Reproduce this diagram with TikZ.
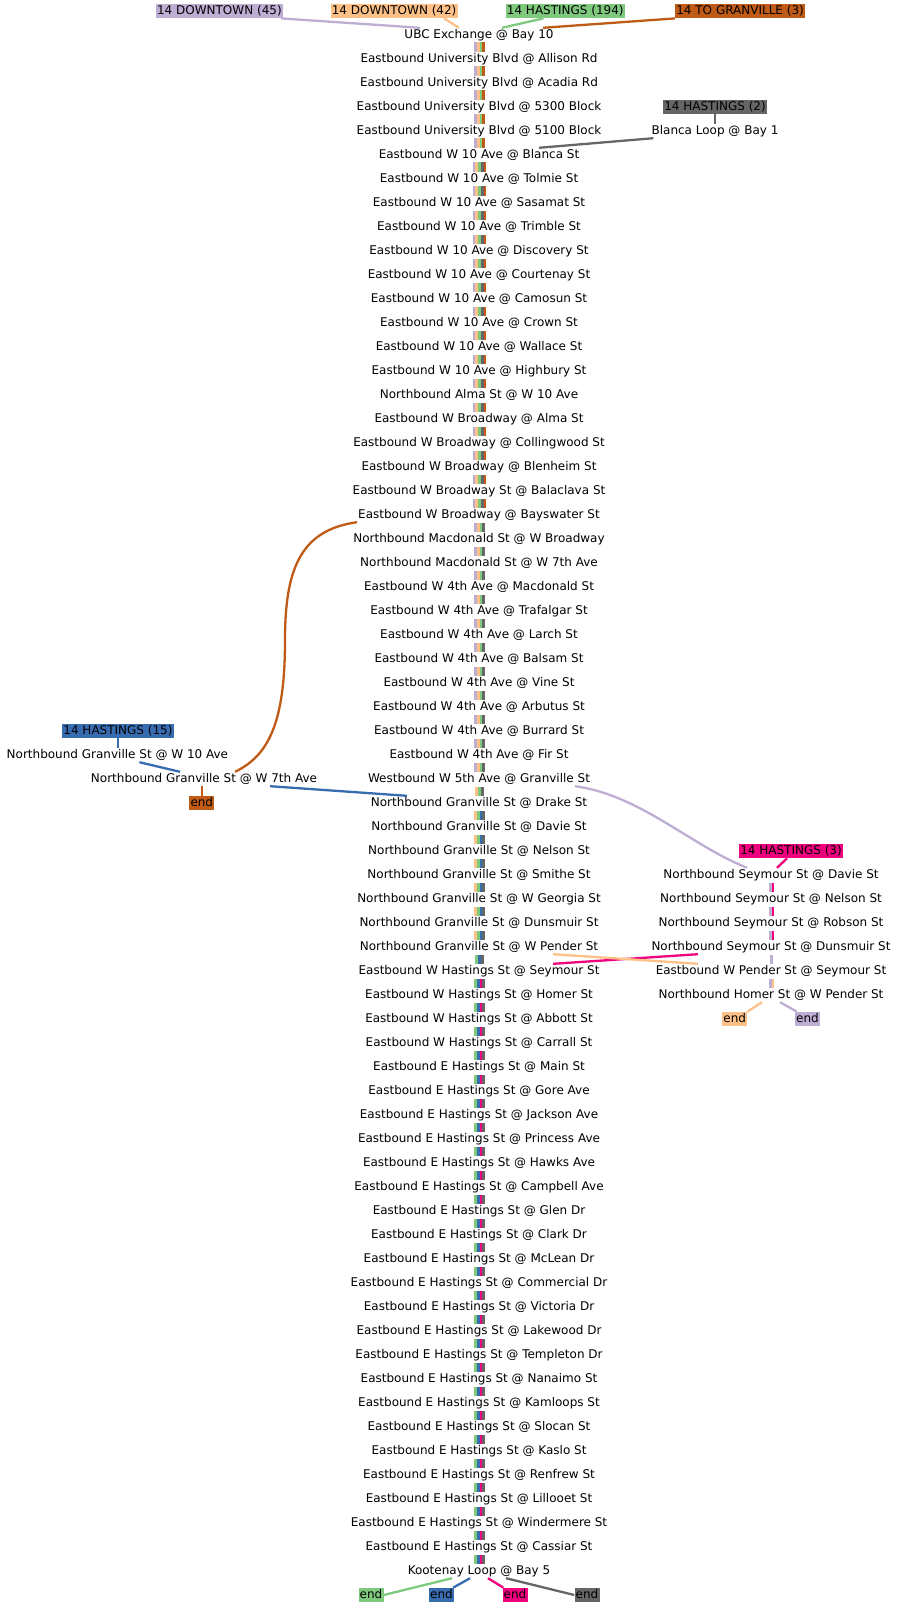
\documentclass[tikz,border=0pt]{standalone}
\usepackage{fontspec}
\setmainfont{DejaVu Sans}
\usetikzlibrary{calc}
\definecolor{cP}{HTML}{BEAED4}
\definecolor{cO}{HTML}{FDC086}
\definecolor{cG}{HTML}{7FC97F}
\definecolor{cB}{HTML}{386CB0}
\definecolor{cK}{HTML}{F0027F}
\definecolor{cY}{HTML}{666666}
\definecolor{cR}{HTML}{BF5B17}
% #1 x centre, #2 first gap, #3 last gap, #4 number of bars, #5 colour list
\newcommand\routebars[5]{%
  \foreach \g in {#2,...,#3}{%
    \foreach \col [count=\i] in {#5}{%
      \fill[\col] ({#1-#4*1.375+(\i-1)*2.75},{11+24*\g+7.5}) rectangle ++(2.75,9.5);
    }%
  }%
}
\begin{document}
\begin{tikzpicture}[x=1pt,y=-1pt,
  stn/.style={inner xsep=1pt, inner ysep=1pt, text height=9.2pt, text depth=2.8pt,
              font=\fontsize{12}{14}\selectfont},
  lbl/.style={stn, fill=#1, inner ysep=1.2pt, inner xsep=1.2pt},
  conn/.style={draw=#1, line width=2.3pt},
]
\fill[white] (0,0) rectangle (899,1608);
\useasboundingbox (0,0) rectangle (899,1608);

% main column
\foreach \t [count=\k] in {UBC Exchange @ Bay 10,
 Eastbound University Blvd @ Allison Rd,
 Eastbound University Blvd @ Acadia Rd,
 Eastbound University Blvd @ 5300 Block,
 Eastbound University Blvd @ 5100 Block,
 Eastbound W 10 Ave @ Blanca St,
 Eastbound W 10 Ave @ Tolmie St,
 Eastbound W 10 Ave @ Sasamat St,
 Eastbound W 10 Ave @ Trimble St,
 Eastbound W 10 Ave @ Discovery St,
 Eastbound W 10 Ave @ Courtenay St,
 Eastbound W 10 Ave @ Camosun St,
 Eastbound W 10 Ave @ Crown St,
 Eastbound W 10 Ave @ Wallace St,
 Eastbound W 10 Ave @ Highbury St,
 Northbound Alma St @ W 10 Ave,
 Eastbound W Broadway @ Alma St,
 Eastbound W Broadway @ Collingwood St,
 Eastbound W Broadway @ Blenheim St,
 Eastbound W Broadway St @ Balaclava St,
 Eastbound W Broadway @ Bayswater St,
 Northbound Macdonald St @ W Broadway,
 Northbound Macdonald St @ W 7th Ave,
 Eastbound W 4th Ave @ Macdonald St,
 Eastbound W 4th Ave @ Trafalgar St,
 Eastbound W 4th Ave @ Larch St,
 Eastbound W 4th Ave @ Balsam St,
 Eastbound W 4th Ave @ Vine St,
 Eastbound W 4th Ave @ Arbutus St,
 Eastbound W 4th Ave @ Burrard St,
 Eastbound W 4th Ave @ Fir St,
 Westbound W 5th Ave @ Granville St,
 Northbound Granville St @ Drake St,
 Northbound Granville St @ Davie St,
 Northbound Granville St @ Nelson St,
 Northbound Granville St @ Smithe St,
 Northbound Granville St @ W Georgia St,
 Northbound Granville St @ Dunsmuir St,
 Northbound Granville St @ W Pender St,
 Eastbound W Hastings St @ Seymour St,
 Eastbound W Hastings St @ Homer St,
 Eastbound W Hastings St @ Abbott St,
 Eastbound W Hastings St @ Carrall St,
 Eastbound E Hastings St @ Main St,
 Eastbound E Hastings St @ Gore Ave,
 Eastbound E Hastings St @ Jackson Ave,
 Eastbound E Hastings St @ Princess Ave,
 Eastbound E Hastings St @ Hawks Ave,
 Eastbound E Hastings St @ Campbell Ave,
 Eastbound E Hastings St @ Glen Dr,
 Eastbound E Hastings St @ Clark Dr,
 Eastbound E Hastings St @ McLean Dr,
 Eastbound E Hastings St @ Commercial Dr,
 Eastbound E Hastings St @ Victoria Dr,
 Eastbound E Hastings St @ Lakewood Dr,
 Eastbound E Hastings St @ Templeton Dr,
 Eastbound E Hastings St @ Nanaimo St,
 Eastbound E Hastings St @ Kamloops St,
 Eastbound E Hastings St @ Slocan St,
 Eastbound E Hastings St @ Kaslo St,
 Eastbound E Hastings St @ Renfrew St,
 Eastbound E Hastings St @ Lillooet St,
 Eastbound E Hastings St @ Windermere St,
 Eastbound E Hastings St @ Cassiar St,
 Kootenay Loop @ Bay 5}
  \node[stn] (s\k) at (479,{11+24*\k}) {\t};

% right column (Seymour)
\foreach \t [count=\k from 36] in {Northbound Seymour St @ Davie St,
 Northbound Seymour St @ Nelson St,
 Northbound Seymour St @ Robson St,
 Northbound Seymour St @ Dunsmuir St,
 Eastbound W Pender St @ Seymour St,
 Northbound Homer St @ W Pender St}
  \node[stn] (r\k) at (771,{11+24*\k}) {\t};

% route labels
\node[lbl=cP] (l45) at (219.4,11) {14 DOWNTOWN (45)};
\node[lbl=cO] (l42) at (394.1,11) {14 DOWNTOWN (42)};
\node[lbl=cG] (l194) at (565.3,11) {14 HASTINGS (194)};
\node[lbl=cR] (lgr) at (740.1,11) {14 TO GRANVILLE (3)};
\node[lbl=cY] (lh2) at (715,107) {14 HASTINGS (2)};
\node[stn] (blanca) at (715,131) {Blanca Loop @ Bay 1};
\node[lbl=cB] (lh15) at (118,731) {14 HASTINGS (15)};
\node[stn] (g10) at (117.4,755) {Northbound Granville St @ W 10 Ave};
\node[stn] (g7) at (204,779) {Northbound Granville St @ W 7th Ave};
\node[lbl=cR] (endR) at (201.8,803) {end};
\node[lbl=cK] (lh3) at (791,851) {14 HASTINGS (3)};
\node[lbl=cO] (endO) at (734.7,1019) {end};
\node[lbl=cP] (endP) at (807.5,1019) {end};
\node[lbl=cG] (endG) at (371,1595) {end};
\node[lbl=cB] (endB) at (441.5,1595) {end};
\node[lbl=cK] (endK) at (515,1595) {end};
\node[lbl=cY] (endY) at (587,1595) {end};

% route bars, main column (order: P O G B K Y R)
\routebars{479.5}{1}{5}{4}{cP,cO,cG,cR}
\routebars{479.5}{6}{20}{5}{cP,cO,cG,cY,cR}
\routebars{479.5}{21}{31}{4}{cP,cO,cG,cY}
\routebars{479.5}{32}{32}{3}{cO,cG,cY}
\routebars{479.5}{33}{38}{4}{cO,cG,cB,cY}
\routebars{479.5}{39}{39}{3}{cG,cB,cY}
\routebars{479.5}{40}{64}{4}{cG,cB,cK,cY}
% right column
\routebars{771.5}{36}{38}{2}{cP,cK}
\routebars{771.5}{39}{39}{1}{cP}
\routebars{771.5}{40}{40}{2}{cP,cO}

% connectors at the top
\draw[conn=cP] ($(l45.south east)+(-2,0)$) -- ($(s1.north)+(-59,0)$);
\draw[conn=cO] ($(l42.south)+(50,0)$) -- ($(s1.north)+(-20,0)$);
\draw[conn=cG] ($(l194.south)+(-22,0)$) -- ($(s1.north)+(23,0)$);
\draw[conn=cR] ($(lgr.south)+(-65,0)$) -- ($(s1.north)+(64,0)$);

% Blanca branch
\draw[conn=cY] (lh2.south) -- (blanca.north);
\draw[conn=cY] ($(blanca.south west)+(3,0)$) -- ($(s6.north)+(60,0)$);

% Granville branch (left)
\draw[conn=cR] (s21.south west) .. controls (300,530) and (285,570) .. (285,640)
  .. controls (285,720) and (270,755) .. ($(g7.north)+(31,0)$);
\draw[conn=cR] (endR.north |- g7.south) -- (endR.north);
\draw[conn=cB] (lh15.south) -- (lh15.south |- g10.north);
\draw[conn=cB] ($(g10.south)+(22,0)$) -- ($(g7.north)+(-24,0)$);
\draw[conn=cB] ($(g7.south)+(66,0)$) -- ($(s33.north)+(-72,0)$);

% Seymour branch (right)
\draw[conn=cP] ($(s32.south)+(96,0)$) .. controls (640,795) and (690,845) .. ($(r36.north)+(-24,0)$);
\draw[conn=cK] ($(lh3.south)+(-4,0)$) -- ($(r36.north)+(6,0)$);
\draw[conn=cK] ($(r39.south)+(-73,0)$) -- ($(s40.north)+(74,0)$);
\draw[conn=cO] ($(s39.south)+(74,0)$) -- ($(r40.north)+(-73,0)$);
\draw[conn=cO] ($(r41.south)+(-9,0)$) -- (endO.north east);
\draw[conn=cP] ($(r41.south)+(9,0)$) -- ($(endP.north west)+(2,0)$);

% ends at Kootenay Loop
\draw[conn=cG] ($(s65.south)+(-27,0)$) -- (endG.east);
\draw[conn=cB] ($(s65.south)+(-9,0)$) -- ($(endB.north east)+(-1,0)$);
\draw[conn=cK] ($(s65.south)+(9,0)$) -- ($(endK.north west)+(1,0)$);
\draw[conn=cY] ($(s65.south)+(27,0)$) -- (endY.west);
\end{tikzpicture}
\end{document}
